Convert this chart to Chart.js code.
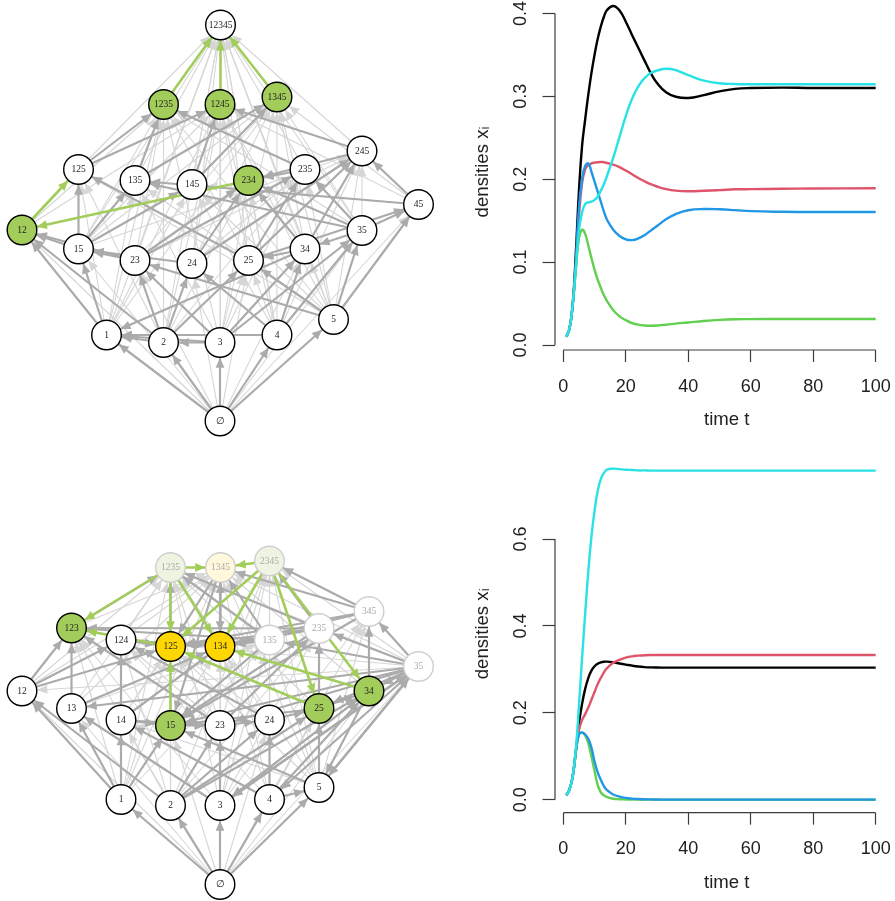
<!DOCTYPE html>
<html>
<head>
<meta charset="utf-8">
<script src="https://cdn.jsdelivr.net/npm/chart.js@4"></script>
<style>
    html, body { margin: 0; background: #fff; overflow: hidden; width: 895px; height: 901px; }
    canvas { position: absolute; }
</style>
</head>
<body>
<canvas id="netTop" width="445" height="450" style="left:0;top:0"></canvas>
<canvas id="netBottom" width="445" height="451" style="left:0;top:450px"></canvas>
<canvas id="lineTop" width="430" height="446" style="left:470px;top:-6px"></canvas>
<canvas id="lineBottom" width="430" height="446" style="left:470px;top:455px"></canvas>
<script>
//ネットワークのノード（上）
const topNames = ["12345", "1235", "1245", "1345", "125", "135", "145", "234", "235", "245", "45", "12", "15", "23", "24", "25", "34", "35", "1", "2", "3", "4", "5", "∅"];
const topX = [220.5, 163.5, 220, 277, 78.5, 135, 192, 248.5, 305, 362, 418.5, 22, 78.5, 135, 192, 248.5, 305, 362, 106.5, 163.5, 220, 277, 333.5, 220];
const topY = [25, 104.5, 104.5, 97, 169.5, 180.5, 184.5, 180.5, 169.5, 151, 204.5, 230, 249, 260.5, 263.5, 260.5, 249, 230.5, 335, 342.5, 342.5, 335, 319.5, 421];

//エッジ（上）
const topThin = [
    "∅>12", "∅>15", "∅>23", "∅>24", "∅>25", "∅>34", "∅>35", "∅>45", "∅>1245",
    "1>125", "1>135", "1>145", "1>1235", "1>1245", "1>1345",
    "2>125", "2>234", "2>235", "2>245", "2>1235", "2>1245",
    "3>135", "3>234", "3>235", "3>1235", "3>1345", "3>25",
    "4>145", "4>234", "4>245", "4>1245", "4>1345", "4>25",
    "5>125", "5>135", "5>145", "5>235", "5>245", "5>1235", "5>1245", "5>1345", "5>34",
    "12>1235", "12>1245", "15>1235", "15>1245", "15>1345",
    "23>1235", "23>1345", "24>1245", "24>1345", "25>1235", "25>1245",
    "34>1345", "34>1245", "35>1235", "35>1345", "45>1245", "45>1345", "45>145",
    "15>12345", "23>12345", "24>12345", "25>12345", "34>12345", "35>12345",
    "125>12345", "135>12345", "145>12345", "234>12345", "235>12345", "245>12345",
    "1>12345", "2>12345", "3>12345", "4>12345", "5>12345", "35>245", "24>235", "23>245", "15>245"
];
const topThick = [
    "∅>1", "∅>2", "∅>3", "∅>4", "∅>5",
    "1>12", "1>15", "2>12", "2>23", "2>24", "2>25", "2>1", "3>2", "3>23", "3>34", "3>35", "3>1",
    "4>1", "4>24", "4>34", "4>35", "5>23", "5>25", "5>35", "5>45",
    "15>12", "23>12", "23>15", "24>15", "34>25", "34>1", "35>34",
    "15>125", "15>135", "15>145", "25>125", "23>234", "24>234", "34>234", "35>234", "35>135", "35>235",
    "23>235", "25>235", "25>245", "24>245", "34>245", "35>45", "25>45", "45>245", "45>135",
    "125>1235", "125>1245", "135>1235", "135>1345", "145>1245", "145>1345",
    "235>1235", "245>1245", "235>234", "245>234"
];
const topGreenEdges = ["12>125", "234>12", "1235>12345", "1245>12345", "1345>12345"];

//ネットワークのノード（下）
const botNames = ["1235", "1345", "2345", "123", "124", "125", "134", "135", "235", "345", "35", "12", "13", "14", "15", "23", "24", "25", "34", "1", "2", "3", "4", "5", "∅"];
const botX = [170.5, 220.5, 269.5, 71.5, 121, 170.5, 220, 269.5, 319, 369, 418.5, 22, 71.5, 121, 170.5, 220, 269.5, 319, 369, 121, 170.5, 220, 269.5, 319, 220];
const botY = [567.5, 567.5, 561, 628, 640, 646.5, 646.5, 640, 628.5, 611.5, 666.5, 691, 708.5, 720, 725.5, 725.5, 720, 708.5, 691, 799.5, 805.5, 805.5, 799.5, 787.5, 884.5];

//エッジ（下）
const botThin = [
    "∅>12", "∅>13", "∅>14", "∅>15", "∅>23", "∅>24", "∅>25", "∅>34", "∅>35",
    "1>123", "1>124", "1>125", "1>134", "1>135", "1>1235", "1>1345",
    "2>123", "2>124", "2>125", "2>235", "2>1235", "2>2345",
    "3>123", "3>134", "3>135", "3>235", "3>345", "3>1235", "3>1345", "3>2345",
    "4>124", "4>134", "4>345", "4>1345", "4>2345", "4>25",
    "5>125", "5>135", "5>235", "5>345", "5>1235", "5>1345", "5>2345", "5>14",
    "12>1235", "13>135", "13>1235", "13>1345", "14>1345", "15>135", "15>1235", "15>1345",
    "23>1235", "23>2345", "24>2345", "25>1235", "25>2345", "34>1345", "34>2345",
    "35>1235", "35>1345", "35>2345", "12>1345", "14>125", "24>134", "24>125", "23>124", "23>125",
    "123>1345", "124>1345", "124>1235", "35>124", "35>12"
];
const botThick = [
    "∅>1", "∅>2", "∅>3", "∅>4", "∅>5",
    "1>12", "1>13", "1>14", "1>15", "2>12", "2>23", "2>24", "2>25", "2>34", "3>13", "3>23", "3>34", "3>35",
    "4>14", "4>24", "4>34", "4>5", "5>15", "5>25", "5>35", "35>5", "34>5", "35>3", "34>3", "35>4",
    "12>123", "12>124", "12>125", "13>123", "13>134", "14>124", "14>15", "14>134", "24>124",
    "23>123", "23>235", "25>235", "25>15", "34>345", "35>345", "35>235", "35>135", "35>13", "35>23", "35>15", "35>25", "35>34",
    "345>134", "345>15", "345>1345", "345>2345", "345>125", "235>15", "235>123", "235>1235", "235>2345", "235>125", "235>134",
    "135>15", "135>123", "135>1235", "135>1345", "135>125", "135>134", "124>125", "134>1345", "125>1235",
    "1345>134", "1345>15", "1345>125", "123>1235", "25>34", "23>24", "24>25", "14>23", "15>23", "124>134"
];
const botGreenEdges = ["1235>1345", "2345>1345", "1235>123", "1235>125", "1235>134", "2345>125", "2345>134", "2345>25", "2345>34", "125>123", "15>125", "25>125", "34>134"];

//時系列データ
const timeValues = [1, 2, 3, 4, 5, 6, 7, 8, 9, 10, 11, 12, 13, 14, 16, 18, 20, 22, 24, 26, 28, 30, 33, 36, 40, 45, 50, 55, 60, 70, 80, 100];
const timeTicks = [0, 20, 40, 60, 80, 100];

const topBlack = [.01, .02, .048, .11, .185, .24, .272, .302, .328, .35, .369, .384, .396, .404, .409, .4035, .39, .374, .3585, .343, .328, .316, .3045, .2995, .298, .3015, .306, .309, .31, .3105, .31, .31];
const topRed = [.01, .02, .048, .095, .155, .195, .212, .217, .219, .22, .2205, .2207, .2205, .2195, .2175, .2145, .2105, .206, .2015, .1975, .194, .1912, .188, .1862, .1855, .186, .1868, .1878, .188, .1885, .1888, .189];
const topGreenLine = [.01, .02, .048, .09, .128, .139, .134, .12, .105, .091, .079, .069, .06, .053, .042, .0345, .03, .0265, .0245, .0236, .0233, .0235, .0245, .0258, .0272, .029, .0303, .031, .0312, .0314, .0314, .0314];
const topBlue = [.01, .02, .048, .1, .165, .2, .216, .219, .209, .197, .185, .173, .161, .151, .139, .1315, .1275, .1265, .1285, .1325, .138, .1435, .152, .158, .1625, .164, .1637, .1627, .1615, .1607, .1604, .1604];
const topCyan = [.01, .02, .048, .092, .138, .16, .17, .172, .173, .175, .179, .186, .194, .204, .226, .251, .276, .297, .312, .322, .328, .331, .3332, .3315, .3255, .319, .3157, .3148, .3145, .3145, .3145, .3145];
const topYTicks = [0, .1, .2, .3, .4];

const botBlack = [.01, .024, .053, .11, .175, .22, .255, .28, .297, .307, .313, .316, .3175, .3177, .316, .3135, .311, .3085, .3065, .3052, .3045, .3042, .304, .304, .304, .304, .304, .304, .304, .304, .304, .304];
const botRed = [.01, .024, .053, .11, .16, .183, .197, .212, .23, .248, .266, .28, .293, .303, .315, .322, .327, .33, .3315, .3325, .333, .333, .333, .333, .333, .333, .333, .333, .333, .333, .333, .333];
const botGreenLine = [.01, .024, .053, .11, .15, .154, .148, .13, .1, .066, .034, .017, .01, .006, .002, .001, .0005, .0002, 0, 0, 0, 0, 0, 0, 0, 0, 0, 0, 0, 0, 0, 0];
const botBlue = [.01, .024, .053, .11, .15, .155, .15, .14, .12, .088, .063, .046, .031, .022, .012, .007, .004, .0025, .0015, .001, .0006, .0003, .0001, 0, 0, 0, 0, 0, 0, 0, 0, 0];
const botCyan = [.01, .024, .053, .115, .215, .325, .428, .525, .605, .665, .71, .738, .752, .76, .762, .761, .7595, .759, .758, .758, .7575, .7575, .7575, .7575, .7575, .7575, .7575, .7575, .7575, .7575, .7575, .7575];
const botYTicks = [0, .2, .4, .6];

const lineColors = ["#000000", "#DF536B", "#61D04F", "#2297E6", "#28E2E5"];

const GREEN = "#A2CD5A";
const NODE_R = 14.8;
const AXIS_COLOR = "#3c3c3c";

//矢印の先端をエッジごとに描く
const arrowPlugin = {
    id: "arrow",
    afterDatasetDraw: function (chart, args) {
        const ds = chart.data.datasets[args.index];
        if (!ds.edgeColor) return;
        const xs = chart.scales.x, ys = chart.scales.y;
        const x0 = xs.getPixelForValue(ds.data[0].x), y0 = ys.getPixelForValue(ds.data[0].y);
        const x1 = xs.getPixelForValue(ds.data[1].x), y1 = ys.getPixelForValue(ds.data[1].y);
        const a = Math.atan2(y1 - y0, x1 - x0);
        const tipX = x1 - Math.cos(a) * (NODE_R + 0.5), tipY = y1 - Math.sin(a) * (NODE_R + 0.5);
        const c = chart.ctx;
        c.save();
        c.translate(tipX, tipY);
        c.rotate(a);
        c.fillStyle = ds.edgeColor;
        c.beginPath();
        c.moveTo(0, 0);
        c.lineTo(-10, -4.4);
        c.lineTo(-10, 4.4);
        c.closePath();
        c.fill();
        c.restore();
    }
};

//ノードのラベル
const nodeLabelPlugin = {
    id: "nodeLabel",
    afterDraw: function (chart) {
        const c = chart.ctx;
        const nodes = chart.data.datasets[0];
        c.save();
        c.font = "9.5px 'Liberation Serif'";
        c.textAlign = "center";
        c.textBaseline = "middle";
        nodes.data.forEach(function (n) {
            c.fillStyle = nodes.labelColors[n.name] || "#222";
            c.fillText(n.name, chart.scales.x.getPixelForValue(n.x), chart.scales.y.getPixelForValue(n.y));
        });
        c.restore();
    }
};

//Rのように目盛りの範囲だけ軸線を引く
const axisLinePlugin = {
    id: "axisLine",
    afterDraw: function (chart) {
        const c = chart.ctx, xs = chart.scales.x, ys = chart.scales.y;
        c.save();
        c.strokeStyle = AXIS_COLOR;
        c.lineWidth = 1.2;
        c.beginPath();
        c.moveTo(xs.getPixelForValue(xs.ticks[0].value), ys.bottom);
        c.lineTo(xs.getPixelForValue(xs.ticks[xs.ticks.length - 1].value), ys.bottom);
        c.moveTo(xs.left, ys.getPixelForValue(ys.ticks[0].value));
        c.lineTo(xs.left, ys.getPixelForValue(ys.ticks[ys.ticks.length - 1].value));
        c.stroke();
        c.restore();
    }
};

function edgeDatasets(edges, pos, color, width) {
    return edges.map(function (e) {
        const p = e.split(">");
        return {
            type: "line",
            data: [pos[p[0]], pos[p[1]]],
            borderColor: color,
            borderWidth: width,
            pointRadius: 0,
            edgeColor: color,
            parsing: false,
            clip: false
        };
    });
}

function createNetwork(id, names, xs, ys, thin, thick, green, fills, borders, labelColors, yMin, yMax) {
    let pos = {};
    names.forEach(function (n, i) {
        pos[n] = { x: xs[i], y: ys[i], name: n };
    });
    const nodeData = names.map(function (n) { return pos[n]; });
    const nodes = {
        type: "scatter",
        data: nodeData,
        parsing: false,
        clip: false,
        pointRadius: NODE_R,
        pointBorderWidth: 1.4,
        pointBackgroundColor: names.map(function (n) { return fills[n] || "#ffffff"; }),
        pointBorderColor: names.map(function (n) { return borders[n] || "#000000"; }),
        labelColors: labelColors
    };
    const canvas = document.getElementById(id);
    new Chart(canvas, {
        type: "scatter",
        data: {
            datasets: [nodes].concat(
                edgeDatasets(green, pos, GREEN, 2.6),
                edgeDatasets(thick, pos, "#ababab", 2.2),
                edgeDatasets(thin, pos, "#d6d6d6", 1.1)
            )
        },
        options: {
            responsive: false,
            animation: false,
            events: [],
            layout: { padding: 0, autoPadding: false },
            plugins: { legend: { display: false }, tooltip: { enabled: false } },
            scales: {
                x: { type: "linear", display: false, min: 0, max: canvas.width },
                y: { type: "linear", display: false, min: yMin, max: yMax, reverse: true }
            }
        },
        plugins: [arrowPlugin, nodeLabelPlugin]
    });
}

function createLines(id, series, yTicks, view) {
    const canvas = document.getElementById(id);
    const names = ["black", "red", "green", "blue", "cyan"];
    const datasets = series.map(function (values, i) {
        return {
            label: names[i],
            data: values.map(function (v, j) { return { x: timeValues[j], y: v }; }),
            borderColor: lineColors[i],
            borderWidth: 2.4,
            pointRadius: 0,
            tension: 0.45,
            order: series.length - i,
            clip: false
        };
    });
    const tickFont = { family: "'Liberation Sans'", size: 18 };
    const titleFont = { family: "'Liberation Sans'", size: 18.6 };
    const noPad = function (s) {
        s.paddingTop = 0; s.paddingBottom = 0; s.paddingLeft = 0; s.paddingRight = 0;
    };
    new Chart(canvas, {
        type: "line",
        data: { datasets: datasets },
        options: {
            responsive: false,
            animation: false,
            events: [],
            layout: { padding: { left: 0, right: canvas.width - (view.right - 470), top: 0, bottom: 0 }, autoPadding: false },
            plugins: { legend: { display: false }, tooltip: { enabled: false } },
            scales: {
                x: {
                    type: "linear",
                    min: (view.left - view.x0) / view.xUnit,
                    max: (view.right - view.x0) / view.xUnit,
                    afterBuildTicks: function (s) {
                        s.ticks = timeTicks.map(function (v) { return { value: v }; });
                    },
                    afterFit: function (s) {
                        s.height = view.canvasBottom - view.bottom;
                        noPad(s);
                    },
                    border: { display: false },
                    grid: { drawOnChartArea: false, tickLength: 12, tickColor: AXIS_COLOR, tickWidth: 1.2 },
                    ticks: { font: tickFont, color: "#222", padding: 14, maxRotation: 0, autoSkip: false },
                    title: { display: true, text: "time t", font: titleFont, color: "#222", padding: { top: 0, bottom: view.titlePad } }
                },
                y: {
                    type: "linear",
                    min: (view.zero - view.bottom) / view.yUnit,
                    max: (view.zero - view.top) / view.yUnit,
                    afterBuildTicks: function (s) {
                        s.ticks = yTicks.map(function (v) { return { value: v }; });
                    },
                    afterFit: function (s) {
                        s.width = view.left - 470;
                        noPad(s);
                    },
                    border: { display: false },
                    grid: { drawOnChartArea: false, tickLength: 12.5, tickColor: AXIS_COLOR, tickWidth: 1.2 },
                    ticks: {
                        font: tickFont, color: "#222", padding: 9, minRotation: 90, maxRotation: 90, crossAlign: "center", autoSkip: false,
                        callback: function (v) { return v.toFixed(1); }
                    },
                    title: { display: true, text: "densities xᵢ", font: titleFont, color: "#222", padding: { top: 2, bottom: 0 } }
                }
            }
        },
        plugins: [axisLinePlugin]
    });
}

createNetwork("netTop", topNames, topX, topY, topThin, topThick, topGreenEdges,
    { "12": GREEN, "234": GREEN, "1235": GREEN, "1245": GREEN, "1345": GREEN }, {}, {}, 0, 450);

createNetwork("netBottom", botNames, botX, botY, botThin, botThick, botGreenEdges,
    { "123": GREEN, "15": GREEN, "25": GREEN, "34": GREEN, "125": "#FFD700", "134": "#FFD700", "1235": "#EEF4E2", "2345": "#EEF4E2", "1345": "#FFF8DC" },
    { "1235": "#cfcfcf", "2345": "#cfcfcf", "1345": "#cfcfcf", "135": "#cfcfcf", "235": "#cfcfcf", "345": "#cfcfcf", "35": "#cfcfcf" },
    { "1235": "#aaa", "2345": "#aaa", "1345": "#aaa", "135": "#aaa", "235": "#aaa", "345": "#aaa", "35": "#aaa" },
    450, 901);

createLines("lineTop", [topBlack, topRed, topGreenLine, topBlue, topCyan], topYTicks,
    { left: 555, right: 898.4, x0: 563.3, xUnit: 3.124, top: -6, bottom: 350, zero: 345, yUnit: 829, canvasBottom: 440, titlePad: 9 });

createLines("lineBottom", [botBlack, botRed, botGreenLine, botBlue, botCyan], botYTicks,
    { left: 555, right: 898.4, x0: 563.3, xUnit: 3.124, top: 455, bottom: 812.67, zero: 799.67, yUnit: 434.4, canvasBottom: 901, titlePad: 7 });
</script>
</body>
</html>
